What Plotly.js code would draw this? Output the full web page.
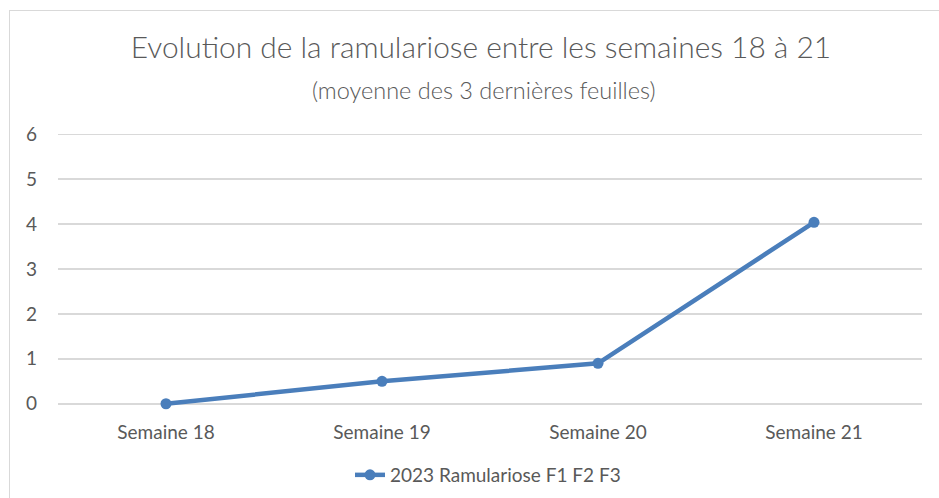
<!DOCTYPE html>
<html>
<head>
<meta charset="utf-8">
<script src="https://cdn.plot.ly/plotly-3.0.1.min.js"></script>
<style>
html,body{margin:0;padding:0;background:#fff;}
#wrap{position:relative;width:939px;height:498px;overflow:hidden;}
#frame{position:absolute;left:9px;top:10px;width:960px;height:520px;border:1px solid #d9d9d9;box-sizing:border-box;}
#chart{position:absolute;left:0;top:0;width:939px;height:498px;}
</style>
</head>
<body>
<div id="wrap"><div id="frame"></div><div id="chart"></div></div>
<script>
const categories = ["Semaine 18", "Semaine 19", "Semaine 20", "Semaine 21"];
const seriesName = "2023 Ramulariose F1 F2 F3";
const values = [0, 0.5, 0.9, 4.04];
const yTicks = [0, 1, 2, 3, 4, 5, 6];

const FONT = "Lato, Carlito, Liberation Sans, sans-serif";
const GREY = "#595959";

const MT = 131.75, MB = 91.75, H = 498;
const plotH = H - MT - MB;

const trace = {
  x: categories,
  y: values,
  type: "scatter",
  mode: "lines+markers",
  name: seriesName,
  line: {color: "#4a7ebb", width: 4.5},
  marker: {color: "#4a7ebb", size: 11},
  cliponaxis: false
};

const layout = {
  width: 939,
  height: H,
  paper_bgcolor: "rgba(0,0,0,0)",
  plot_bgcolor: "rgba(0,0,0,0)",
  margin: {l: 58, r: 17, t: MT, b: MB},
  font: {family: FONT, color: GREY, size: 19},
  title: {
    text: "Evolution de la ramulariose entre les semaines 18 à 21",
    font: {family: FONT, size: 29.9, color: GREY, weight: 300},
    x: 481 / 939, xref: "container", xanchor: "center",
    y: 1 - 48 / H, yref: "container", yanchor: "middle"
  },
  annotations: [{
    text: "(moyenne des 3 dernières feuilles)",
    xref: "paper", yref: "paper",
    x: (484 - 58) / 864, y: (H - MB - 90) / plotH,
    xanchor: "center", yanchor: "middle",
    showarrow: false,
    font: {family: FONT, size: 23.5, color: GREY, weight: 300}
  }],
  xaxis: {
    type: "category",
    range: [-0.5, 3.5],
    showgrid: false,
    showline: false,
    zeroline: false,
    ticks: "",
    ticklabelstandoff: 13,
    tickfont: {family: FONT, size: 19, color: GREY},
    automargin: false
  },
  yaxis: {
    range: [-0.05, 6.05],
    tickvals: yTicks,
    showgrid: true,
    gridcolor: "#d9d9d9",
    gridwidth: 1.5,
    zeroline: false,
    showline: false,
    ticks: "",
    ticklabelstandoff: 20,
    tickfont: {family: FONT, size: 19, color: GREY},
    automargin: false
  },
  showlegend: true,
  legend: {
    orientation: "h",
    xref: "container", yref: "container",
    x: 488 / 939, xanchor: "center",
    y: 1 - 475 / H, yanchor: "middle",
    font: {family: FONT, size: 19, color: GREY},
    bgcolor: "rgba(0,0,0,0)"
  }
};

Plotly.newPlot("chart", [trace], layout, {displayModeBar: false, staticPlot: true});
</script>
</body>
</html>
